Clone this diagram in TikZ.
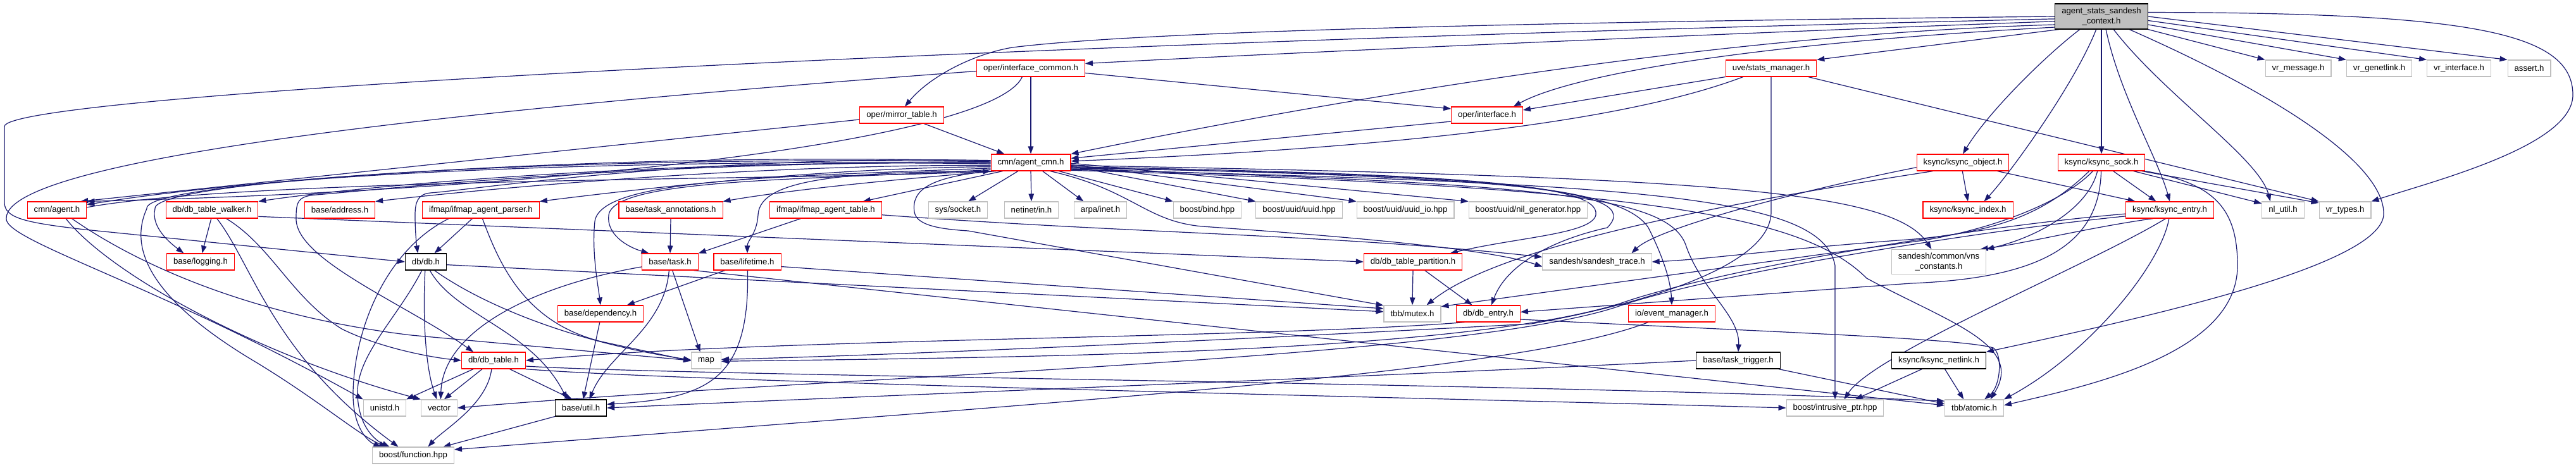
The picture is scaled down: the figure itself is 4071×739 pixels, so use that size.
\documentclass[tikz,border=0pt]{standalone}
\usepackage{fontspec}
\setmainfont{Liberation Sans}
\usetikzlibrary{arrows.meta,backgrounds}
\definecolor{edgeblue}{HTML}{191970}
\definecolor{greyborder}{HTML}{BFBFBF}
\newcommand{\graphfont}{\fontsize{13.2}{15.5}\selectfont}
\tikzset{
  incfile/.style={draw=red, fill=white, line width=1.1pt, inner xsep=10.5pt, inner ysep=0pt, minimum height=26pt, font=\graphfont},
  sysinc/.style={incfile, draw=greyborder},
  docinc/.style={incfile, draw=black},
  rootinc/.style={incfile, draw=black, fill=greyborder, minimum height=40pt, align=center},
  incl/.style={->, edgeblue, line width=1.2pt},
}

\begin{document}
\begin{tikzpicture}[x=1pt, y=-1pt, >={Triangle[length=12pt,width=8.5pt]}]
\useasboundingbox (0,0) rectangle (4071,739);
% files, row by row
\node[rootinc] (root) at (3321,26) {agent\_stats\_sandesh\\\_context.h};
\node[incfile] (ifcommon) at (1629,108) {oper/interface\_common.h};
\node[incfile] (statsmgr) at (2799,108) {uve/stats\_manager.h};
\node[sysinc] (vrmsg) at (3632,108) {vr\_message.h};
\node[sysinc] (vrgenl) at (3760,108) {vr\_genetlink.h};
\node[sysinc] (vrintf) at (3886,108) {vr\_interface.h};
\node[sysinc] (assrt) at (3997,108) {assert.h};
\node[incfile] (mirror) at (1425,182) {oper/mirror\_table.h};
\node[incfile] (intf) at (2350,182) {oper/interface.h};
\node[incfile] (agentcmn) at (1629,257) {cmn/agent\_cmn.h};
\node[incfile] (ksobj) at (3102,257) {ksync/ksync\_object.h};
\node[incfile] (kssock) at (3321,257) {ksync/ksync\_sock.h};
\node[incfile] (agent) at (90,332) {cmn/agent.h};
\node[incfile] (walker) at (335,332) {db/db\_table\_walker.h};
\node[incfile] (address) at (537,332) {base/address.h};
\node[incfile] (parser) at (760,332) {ifmap/ifmap\_agent\_parser.h};
\node[incfile] (taskann) at (1060,332) {base/task\_annotations.h};
\node[incfile] (ifmaptbl) at (1305,332) {ifmap/ifmap\_agent\_table.h};
\node[sysinc] (socket) at (1514,332) {sys/socket.h};
\node[sysinc] (netin) at (1630,332) {netinet/in.h};
\node[sysinc] (arpa) at (1739,332) {arpa/inet.h};
\node[sysinc] (bind) at (1908,332) {boost/bind.hpp};
\node[sysinc] (uuid) at (2053,332) {boost/uuid/uuid.hpp};
\node[sysinc] (uuidio) at (2221,332) {boost/uuid/uuid\_io.hpp};
\node[sysinc] (nilgen) at (2415,332) {boost/uuid/nil\_generator.hpp};
\node[incfile] (ksindex) at (3110,332) {ksync/ksync\_index.h};
\node[incfile] (ksentry) at (3429,332) {ksync/ksync\_entry.h};
\node[sysinc] (nlutil) at (3608,332) {nl\_util.h};
\node[sysinc] (vrtypes) at (3706,332) {vr\_types.h};
\node[incfile] (logging) at (317,414) {base/logging.h};
\node[docinc] (db) at (673,414) {db/db.h};
\node[incfile] (task) at (1059,414) {base/task.h};
\node[incfile] (lifetime) at (1181,414) {base/lifetime.h};
\node[incfile] (partition) at (2233,414) {db/db\_table\_partition.h};
\node[sysinc] (trace) at (2524,414) {sandesh/sandesh\_trace.h};
\node[sysinc, align=center, minimum height=39pt] (vns) at (3064,414) {sandesh/common/vns\\\_constants.h};
\node[incfile] (depend) at (949,496) {base/dependency.h};
\node[sysinc] (mutex) at (2232,496) {tbb/mutex.h};
\node[incfile] (dbentry) at (2352,496) {db/db\_entry.h};
\node[incfile] (evmgr) at (2642,496) {io/event\_manager.h};
\node[incfile] (dbtable) at (780,570) {db/db\_table.h};
\node[sysinc] (map) at (1116,570) {map};
\node[docinc] (trigger) at (2747,570) {base/task\_trigger.h};
\node[docinc] (netlink) at (3064,570) {ksync/ksync\_netlink.h};
\node[sysinc] (unistd) at (608,645) {unistd.h};
\node[sysinc] (vector) at (694,645) {vector};
\node[docinc] (util) at (918,645) {base/util.h};
\node[sysinc] (intrusive) at (2900,645) {boost/intrusive\_ptr.hpp};
\node[sysinc] (atomic) at (3120,645) {tbb/atomic.h};
\node[sysinc] (function) at (653,720) {boost/function.hpp};

\begin{scope}[on background layer]
\fill[white] (0,0) rectangle (4071,739);
% root file
\draw[incl] (root.180) .. controls (2400,35) and (1800,50) .. (1600,75) .. controls (1540,85) and (1470,120) .. (mirror.70);
\draw[incl] (root.183) .. controls (1500,70) and (7,150) .. (7,200) -- (7,320) .. controls (7,345) and (40,352) .. (134,363) -- (db.west);
\draw[incl] (root.186) .. controls (2800,50) and (2100,80) .. (ifcommon.5);
\draw[incl] (root.190) .. controls (2700,55) and (2100,160) .. (agentcmn.north east);
\draw[incl] (root.193) .. controls (2750,70) and (2480,120) .. (intf.18);
\draw[incl] (root.197) -- (statsmgr.north east);
\draw[incl] (root.south east) -- (vrmsg.north west);
\draw[incl] (root.-10) -- (vrgenl.north west);
\draw[incl] (root.-5) -- (vrintf.north west);
\draw[incl] (root.0) -- (assrt.north west);
\draw[incl] (root.5) .. controls (3900,20) and (4066,50) .. (4066,150) .. controls (4066,230) and (3850,285) .. (vrtypes.north east);
\draw[incl] (root.211) .. controls (3230,90) and (3140,180) .. (ksobj.north);
\draw[incl] (root.248) .. controls (3280,130) and (3180,270) .. (ksindex.28);
\draw[incl] (root.south) -- (kssock.north);
\draw[incl] (root.-71) .. controls (3350,150) and (3410,250) .. (ksentry.north);
\draw[incl] (root.-47) .. controls (3420,150) and (3570,250) .. (nlutil.146);
\draw[incl] (root.-25) .. controls (3600,150) and (3770,260) .. (3767,340) .. controls (3760,420) and (3400,500) .. (netlink.north east);
% oper and uve
\draw[incl] (ifcommon.-5) -- (intf.170);
\draw[incl] (ifcommon.south) -- (agentcmn.north);
\draw[incl] (ifcommon.225) .. controls (1570,220) and (900,300) .. (agent.north east);
\draw[incl] (ifcommon.183) .. controls (900,160) and (10,240) .. (10,345) .. controls (5,380) and (250,450) .. (unistd.north west);
\draw[incl] (statsmgr.south west) -- (intf.8);
\draw[incl] (statsmgr.197) .. controls (2600,180) and (2300,230) .. (agentcmn.2);
\draw[incl] (statsmgr.-13) -- (vrtypes.north west);
\draw[incl] (statsmgr.south) -- (2799,335) .. controls (2799,420) and (2600,480) .. (2420,512) .. controls (1900,540) and (1400,562) .. (map.4);
\draw[incl] (mirror.186) -- (agent.20);
\draw[incl] (mirror.-21) -- (agentcmn.162);
\draw[incl] (intf.190) -- (agentcmn.6);
% cmn/agent_cmn.h, to the right
\draw[incl] (agentcmn.214) -- (socket.40);
\draw[incl] (agentcmn.south) -- (netin.north);
\draw[incl] (agentcmn.-36) -- (arpa.153);
\draw[incl] (agentcmn.-17) -- (bind.north west);
\draw[incl] (agentcmn.-5) -- (uuid.north west);
\draw[incl] (agentcmn.-3) -- (uuidio.north west);
\draw[incl] (agentcmn.-1) -- (nilgen.north west);
\draw[incl] (agentcmn.-24) .. controls (1790,300) and (1810,350) .. (1900,358) .. controls (2100,372) and (2350,392) .. (trace.185);
\draw[incl] (agentcmn.-6) .. controls (2300,275) and (2530,290) .. (2522,340) .. controls (2515,370) and (2400,375) .. (partition.13);
\draw[incl] (agentcmn.-7) .. controls (2400,280) and (2600,300) .. (2540,360) .. controls (2450,380) and (2380,420) .. (dbentry.70);
\draw[incl] (agentcmn.-8) .. controls (2300,275) and (2560,290) .. (2605,360) .. controls (2625,400) and (2640,440) .. (evmgr.north);
\draw[incl] (agentcmn.-9) .. controls (2450,290) and (2640,310) .. (2665,390) .. controls (2690,460) and (2750,500) .. (trigger.north);
\draw[incl] (agentcmn.-10) .. controls (2600,290) and (2880,310) .. (2900,420) -- (intrusive.north);
\draw[incl] (agentcmn.-4) .. controls (2700,280) and (2990,300) .. (vns.120);
\draw[incl] (agentcmn.-11) .. controls (2600,295) and (2850,340) .. (2950,440) .. controls (3080,510) and (3200,545) .. (atomic.28);
% cmn/agent_cmn.h, to the left
\draw[incl] (agentcmn.177) .. controls (1100,245) and (750,300) .. (680,305) .. controls (660,307) and (656,320) .. (656,340) .. controls (656,365) and (658,385) .. (db.133);
\draw[incl] (agentcmn.178) .. controls (1000,240) and (400,280) .. (agent.10);
\draw[incl] (agentcmn.179) .. controls (900,245) and (240,285) .. (245,330) .. controls (238,360) and (270,385) .. (logging.153);
\draw[incl] (agentcmn.180) .. controls (1000,255) and (600,300) .. (500,308) .. controls (470,310) and (468,320) .. (468,345) .. controls (466,410) and (640,480) .. (dbtable.157);
\draw[incl] (agentcmn.181) .. controls (900,250) and (225,285) .. (232,330) .. controls (200,400) and (250,480) .. (400,570) .. controls (500,630) and (570,690) .. (function.162);
\draw[incl] (agentcmn.182) .. controls (1100,250) and (600,290) .. (walker.north east);
\draw[incl] (agentcmn.184) .. controls (1200,260) and (800,295) .. (address.north east);
\draw[incl] (agentcmn.186) .. controls (1300,265) and (1000,300) .. (parser.north east);
\draw[incl] (agentcmn.188) .. controls (1200,280) and (950,285) .. (940,350) .. controls (935,400) and (945,450) .. (depend.north);
\draw[incl] (agentcmn.190) .. controls (1300,285) and (970,280) .. (962,340) .. controls (958,370) and (990,390) .. (task.158);
\draw[incl] (agentcmn.194) .. controls (1400,285) and (1250,300) .. (taskann.north east);
\draw[incl] (agentcmn.197) -- (ifmaptbl.13);
\draw[incl] (agentcmn.south west) .. controls (1470,280) and (1440,300) .. (1445,335) .. controls (1448,355) and (1480,362) .. (1530,365) -- (mutex.164);
\draw[incl] (agentcmn.south west) .. controls (1350,272) and (1200,280) .. (1198,340) .. controls (1196,370) and (1181,380) .. (lifetime.north);
% left part
\draw[incl] (agent.5) .. controls (400,280) and (1300,285) .. (agentcmn.192);
\draw[incl] (agent.-44) .. controls (170,430) and (400,560) .. (vector.north west);
\draw[incl] (agent.-30) .. controls (220,420) and (400,500) .. (650,530) -- (map.180);
\draw[incl] (walker.-95) -- (logging.80);
\draw[incl] (walker.-60) .. controls (400,420) and (430,560) .. (function.150);
\draw[incl] (walker.-31) .. controls (430,390) and (460,470) .. (540,520) .. controls (600,550) and (680,565) .. (dbtable.west);
\draw[incl] (walker.-8) -- (partition.west);
\draw[incl] (parser.225) -- (db.45);
\draw[incl] (parser.195) .. controls (610,395) and (560,520) .. (558,620) .. controls (557,680) and (585,700) .. (function.165);
\draw[incl] (parser.-80) .. controls (790,420) and (830,510) .. (950,540) -- (map.182);
\draw[incl] (taskann.south) -- (task.north);
\draw[incl] (ifmaptbl.199) -- (task.north east);
\draw[incl] (ifmaptbl.-5) .. controls (1800,370) and (2100,370) .. (trace.175);
\draw[incl] (db.-8) -- (mutex.176);
\draw[incl] (db.-115) .. controls (630,500) and (565,560) .. (565,620) .. controls (565,670) and (590,695) .. (function.160);
\draw[incl] (db.-95) .. controls (668,500) and (672,580) .. (vector.105);
\draw[incl] (db.-65) .. controls (720,500) and (840,520) .. (util.148);
\draw[incl] (db.-45) .. controls (760,480) and (900,540) .. (map.178);
\draw[incl] (task.-75) -- (map.125);
\draw[incl] (task.-97) .. controls (1050,520) and (960,560) .. (util.45);
\draw[incl] (task.190) .. controls (850,450) and (700,520) .. (vector.80);
\draw[incl] (task.-20) -- (atomic.175);
\draw[incl] (lifetime.-88) .. controls (1185,600) and (1120,630) .. (util.8);
\draw[incl] (lifetime.201) -- (depend.18);
\draw[incl] (lifetime.-8) -- (mutex.170);
\draw[incl] (depend.-95) -- (util.75);
\draw[incl] (dbtable.-157) -- (unistd.north east);
\draw[incl] (dbtable.-143) -- (vector.60);
\draw[incl] (dbtable.-103) .. controls (770,640) and (700,680) .. (function.30);
\draw[incl] (dbtable.-28) -- (util.135);
\draw[incl] (dbtable.-10) .. controls (1100,595) and (2400,605) .. (atomic.167);
\draw[incl] (dbtable.-15) .. controls (1100,605) and (2300,630) .. (intrusive.west);
\draw[incl] (util.south west) -- (function.16);
% db and io, middle part
\draw[incl] (partition.south) -- (mutex.north);
\draw[incl] (partition.-36) -- (dbentry.152);
\draw[incl] (dbentry.200) .. controls (2000,535) and (1200,535) .. (dbtable.east);
\draw[incl] (dbentry.-10) .. controls (2800,525) and (3100,535) .. (3150,550) .. controls (3165,560) and (3162,610) .. (atomic.40);
\draw[incl] (evmgr.200) .. controls (2450,570) and (2000,610) .. (1500,650) -- (function.8);
\draw[incl] (trigger.west) .. controls (2300,590) and (1400,625) .. (util.east);
\draw[incl] (trigger.-12) -- (atomic.172);
% ksync
\draw[incl] (ksobj.-93) -- (ksindex.north);
\draw[incl] (ksobj.-14) -- (ksentry.166);
\draw[incl] (ksobj.186) .. controls (2850,300) and (2620,360) .. (trace.14);
\draw[incl] (ksobj.196) .. controls (2800,310) and (2380,380) .. (mutex.31);
\draw[incl] (kssock.-36) -- (ksentry.148);
\draw[incl] (kssock.-15) -- (nlutil.163);
\draw[incl] (kssock.-12) -- (vrtypes.165);
\draw[incl] (kssock.south east) .. controls (3500,290) and (3536,330) .. (3536,420) .. controls (3536,560) and (3300,610) .. (atomic.5);
\draw[incl] (kssock.245) .. controls (3300,330) and (3220,375) .. (vns.north east);
\draw[incl] (kssock.-92) .. controls (3318,390) and (3220,440) .. (3020,448) -- (dbentry.3);
\draw[incl] (kssock.225) .. controls (3260,320) and (3150,362) .. (3040,380) -- (mutex.14);
\draw[incl] (kssock.215) .. controls (3230,340) and (3150,370) .. (3000,380) .. controls (2800,395) and (2700,410) .. (trace.east);
\draw[incl] (ksentry.185) .. controls (3100,360) and (2700,430) .. (2560,480) .. controls (2300,560) and (1600,565) .. (map.-3);
\draw[incl] (ksentry.188) .. controls (3100,368) and (2700,435) .. (2556,485) .. controls (2300,570) and (1300,595) .. (vector.east);
\draw[incl] (ksentry.207) .. controls (3300,360) and (3200,385) .. (vns.17);
\draw[incl] (ksentry.-115) .. controls (3300,420) and (2960,560) .. (intrusive.43);
\draw[incl] (ksentry.-95) .. controls (3415,420) and (3300,560) .. (atomic.north east);
\draw[incl] (netlink.207) -- (intrusive.23);
\draw[incl] (netlink.-55) -- (atomic.141);
\end{scope}
\end{tikzpicture}
\end{document}
